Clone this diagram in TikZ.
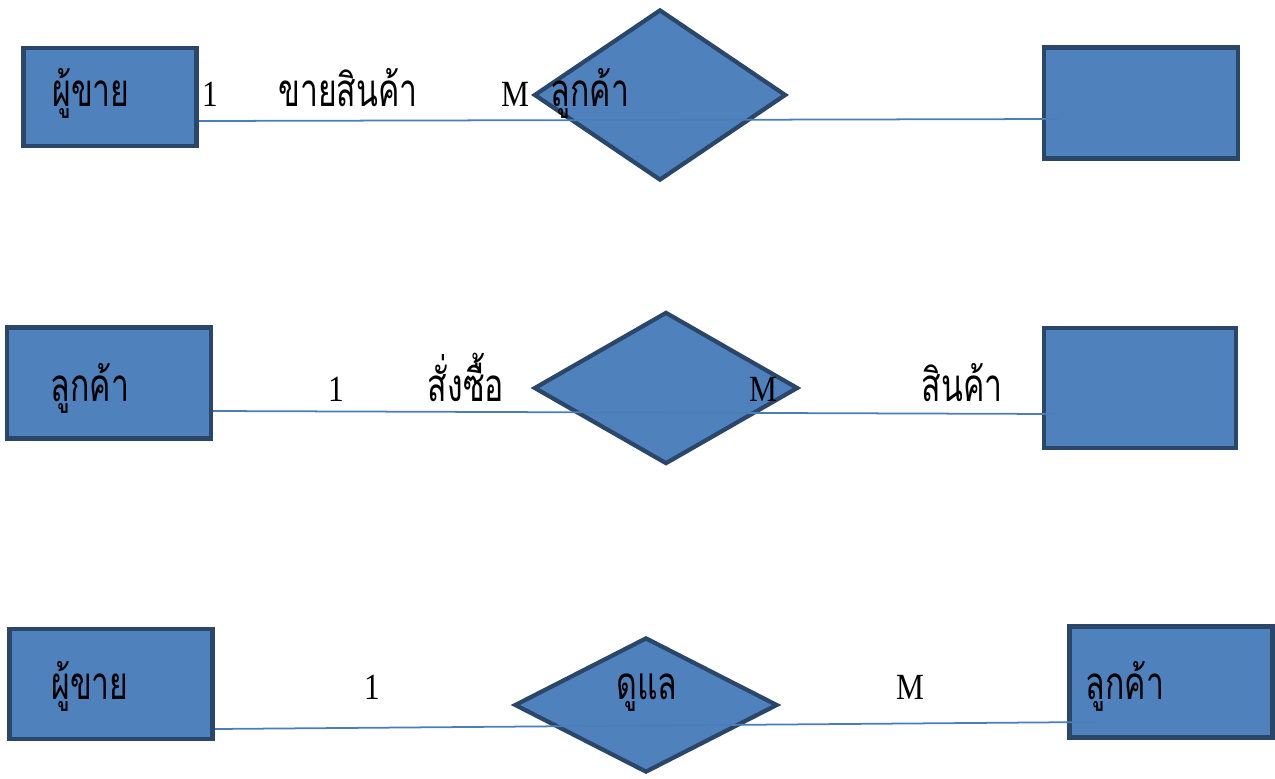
\documentclass[tikz,border=0pt]{standalone}
\usepackage{fontspec}
\setmainfont{Liberation Serif}[FakeStretch=0.85]
\newfontfamily\thaifont[Script=Thai,FakeStretch=0.7]{Loma}
\usetikzlibrary{shapes.geometric}
\definecolor{eblue}{HTML}{4F81BD}
\definecolor{edark}{HTML}{2A4668}
\definecolor{lblue}{HTML}{4A7EBB}

\begin{document}
\begin{tikzpicture}[x=0.02cm,y=-0.02cm,
  entity/.style={rectangle,draw=edark,fill=eblue,line width=2.6pt,inner sep=0pt},
  relation/.style={diamond,draw=edark,fill=eblue,line width=2.4pt,inner sep=0pt},
  link/.style={draw=lblue,line width=1pt},
  card/.style={anchor=base,inner sep=0pt,font=\fontsize{21}{24}\selectfont},
  thaitxt/.style={anchor=base,inner sep=0pt,font=\thaifont\fontsize{26}{30}\selectfont}]
\useasboundingbox (0,0) rectangle (1275,778);

%Row 1:
\node[entity,minimum width=173*0.02cm,minimum height=98*0.02cm] (sell1) at (110,97) {};
\node[relation,minimum width=252*0.02cm,minimum height=171*0.02cm] (rel1) at (660,95) {};
\node[entity,minimum width=194*0.02cm,minimum height=111*0.02cm] (cust1) at (1141,103) {};
\coordinate (l1a) at (199,121);
\coordinate (l1b) at (1057,119);
\draw[link] (l1a) -- (l1b);
\node[thaitxt] (t1a) at (91,106) {ผู้ขาย};
\node[card] (c1a) at (210,106) {1};
\node[thaitxt] (t1b) at (348,106) {ขายสินค้า};
\node[card] (c1b) at (515,106) {M};
\node[thaitxt] (t1c) at (590,106) {ลูกค้า};

%Row 2:
\node[entity,minimum width=204*0.02cm,minimum height=111*0.02cm] (cust2) at (109,383) {};
\node[relation,minimum width=264*0.02cm,minimum height=152*0.02cm] (rel2) at (666,388) {};
\node[entity,minimum width=192*0.02cm,minimum height=120*0.02cm] (prod2) at (1140,388) {};
\coordinate (l2a) at (213,411);
\coordinate (l2b) at (1055,414);
\draw[link] (l2a) -- (l2b);
\node[thaitxt] (t2a) at (90,401) {ลูกค้า};
\node[card] (c2a) at (336,401) {1};
\node[thaitxt] (t2b) at (466,401) {สั่งซื้อ};
\node[card] (c2b) at (763,401) {M};
\node[thaitxt] (t2c) at (962,401) {สินค้า};

%Row 3:
\node[entity,minimum width=203*0.02cm,minimum height=110*0.02cm] (sell3) at (111,684) {};
\node[relation,minimum width=263*0.02cm,minimum height=135*0.02cm] (rel3) at (646,705) {};
\node[entity,minimum width=203*0.02cm,minimum height=111*0.02cm] (cust3) at (1171,682) {};
\coordinate (l3a) at (215,729);
\coordinate (l3b) at (1095,722);
\draw[link] (l3a) -- (l3b);
\node[thaitxt] (t3a) at (90,699) {ผู้ขาย};
\node[card] (c3a) at (372,699) {1};
\node[thaitxt] (t3b) at (647,699) {ดูแล};
\node[card] (c3b) at (910,699) {M};
\node[thaitxt] (t3c) at (1125,699) {ลูกค้า};
\end{tikzpicture}
\end{document}
